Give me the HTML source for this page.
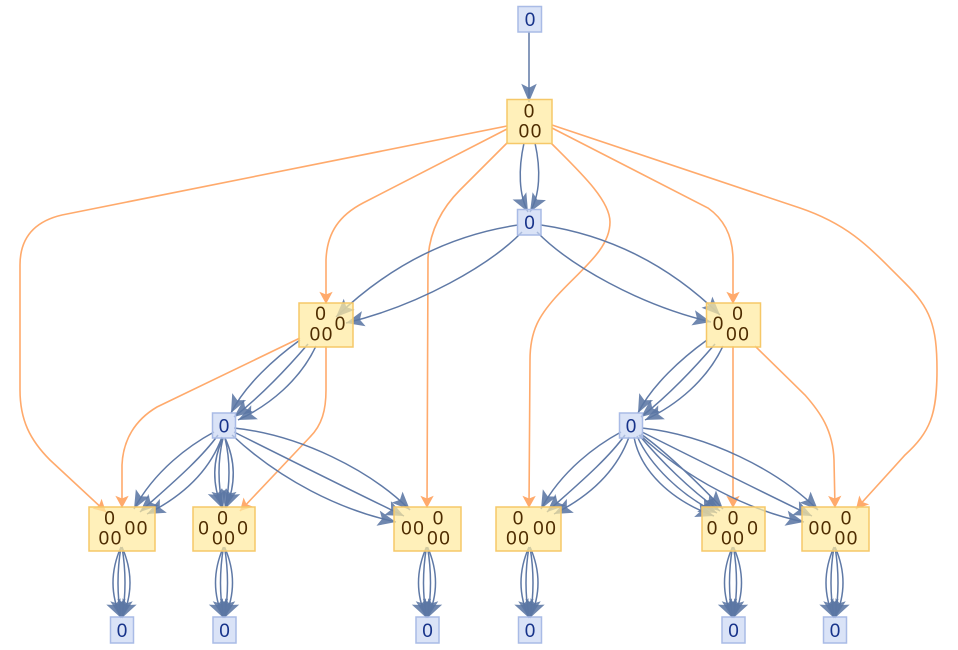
<!DOCTYPE html>
<html><head><meta charset="utf-8"><style>
html,body{margin:0;padding:0;background:#fff;}
svg{display:block;}
.o{fill:none;stroke:#ffaa6c;stroke-width:1.6;marker-end:url(#ao);}
.b{fill:none;stroke:#5f79a6;stroke-width:1.5;marker-end:url(#ab);}
.yn{fill:#ffeaa0;fill-opacity:0.72;stroke:#f6c868;stroke-width:1.5;}
.bn{fill:#cad7f4;fill-opacity:0.7;stroke:#a9bbe6;stroke-width:1.5;}
.yt{font-family:"Liberation Sans",sans-serif;font-size:19px;fill:#4e2c00;text-anchor:middle;}
.bt{font-family:"Liberation Sans",sans-serif;font-size:19px;fill:#17338a;text-anchor:middle;}
.p{letter-spacing:1.6px;}
</style></head><body>
<svg width="958" height="650" viewBox="0 0 958 650" xmlns="http://www.w3.org/2000/svg">
<defs>
<marker id="ab" markerUnits="userSpaceOnUse" markerWidth="24" markerHeight="24" viewBox="-19 -10 21 20" refX="0" refY="0" orient="auto">
<path d="M0,0 L-16,-6.8 L-12.5,0 L-16,6.8 Z" fill="#5b76a4" fill-opacity="0.88"/>
</marker>
<marker id="ao" markerUnits="userSpaceOnUse" markerWidth="20" markerHeight="20" viewBox="-16 -8 18 16" refX="0" refY="0" orient="auto">
<path d="M0,0 L-11,-6 L-8.5,0 L-11,6 Z" fill="#ffaa6c"/>
</marker>
</defs>

<!-- orange edges -->
<path class="o" d="M507,126 L62,215 C32,222 20,240 20,265 L20,390 C20,420 30,440 50,460 L106,512"/>
<path class="o" d="M507,129 L363,203 C340,215 327,232 326,260 L326,304"/>
<path class="o" d="M508,142 L460,190 C442,208 430,230 428,258 L427,508"/>
<path class="o" d="M551,143 C580,172 610,200 610,222 C610,250 580,270 555,298 C540,315 530,330 530,360 L529,508"/>
<path class="o" d="M552,128 L708,208 C725,220 733,238 733,260 L733,304"/>
<path class="o" d="M552,125 L800,208 C850,225 870,248 905,283 C930,308 937,325 937,370 C937,415 930,432 905,455 L856,509"/>
<path class="o" d="M300,338 L157,407 C135,420 123,440 122,465 L122,508"/>
<path class="o" d="M326,346 L326,390 C326,410 322,425 310,437 L240,511"/>
<path class="o" d="M733,346 L733,508"/>
<path class="o" d="M755,346 L805,395 C820,412 833,430 834,460 L835,508"/>

<!-- blue edges -->
<path class="b" d="M529,32 L529,102"/>
<path class="b" d="M524,143 C518,170 519,195 528,212"/>
<path class="b" d="M535,143 C541,170 540,195 530,212"/>
<!-- B1 -> Y1 -->
<path class="b" d="M518,225 C450,235 390,265 336,317"/>
<path class="b" d="M522,232 C490,265 420,305 346,323"/>
<!-- B1 -> Y2 -->
<path class="b" d="M541,225 C609,235 669,265 720,315"/>
<path class="b" d="M537,232 C569,265 639,305 711,322"/>
<!-- Y1 -> B2 -->
<path class="b" d="M300,340 C275,358 245,385 231,413"/>
<path class="b" d="M308,344 C290,365 262,395 234,417"/>
<path class="b" d="M316,346 C300,380 270,405 238,420"/>
<!-- Y2 -> B3 -->
<g transform="translate(407,0)">
<path class="b" d="M300,340 C275,358 245,385 231,413"/>
<path class="b" d="M308,344 C290,365 262,395 234,417"/>
<path class="b" d="M316,346 C300,380 270,405 238,420"/>
</g>
<!-- B2 -> Y3 -->
<path class="b" d="M214,432 C190,445 155,470 134,509"/>
<path class="b" d="M218,435 C200,460 170,485 140,512"/>
<path class="b" d="M222,437 C210,470 185,495 147,514"/>
<!-- B3 -> Y6 -->
<g transform="translate(407,0)">
<path class="b" d="M214,432 C190,445 155,470 134,509"/>
<path class="b" d="M218,435 C200,460 170,485 140,512"/>
<path class="b" d="M222,437 C210,470 185,495 147,514"/>
</g>
<!-- B2 -> Y4 -->
<path class="b" d="M223,438 Q207,472 222,508"/>
<path class="b" d="M223,438 Q215,472 223,508"/>
<path class="b" d="M225,438 Q233,472 225,508"/>
<path class="b" d="M225,438 Q241,472 226,508"/>
<!-- B2 -> Y5 -->
<path class="b" d="M234,428 C300,435 370,470 410,510"/>
<path class="b" d="M234,432 C290,460 350,490 404,516"/>
<path class="b" d="M232,435 C280,480 340,510 396,522"/>
<!-- B3 -> Y8 -->
<g transform="translate(408,0)">
<path class="b" d="M234,428 C300,435 370,470 410,510"/>
<path class="b" d="M234,432 C290,460 350,490 404,516"/>
<path class="b" d="M232,435 C280,480 340,510 396,522"/>
</g>
<!-- B3 -> Y7 -->
<path class="b" d="M634,437 C640,470 670,500 714,516"/>
<path class="b" d="M637,436 C650,465 680,495 717,513"/>
<path class="b" d="M639,435 C660,460 690,490 720,511"/>
<path class="b" d="M641,434 C670,455 700,485 723,509"/>

<!-- Y -> bottom blues -->
<g>
<path class="b" d="M121,547 Q105,583 121,618"/>
<path class="b" d="M121,547 Q115,583 121,618"/>
<path class="b" d="M122,547 Q128,583 122,618"/>
<path class="b" d="M122,547 Q138,583 122,618"/>
</g>
<g transform="translate(102.5,0)">
<path class="b" d="M121,547 Q105,583 121,618"/>
<path class="b" d="M121,547 Q115,583 121,618"/>
<path class="b" d="M122,547 Q128,583 122,618"/>
<path class="b" d="M122,547 Q138,583 122,618"/>
</g>
<g transform="translate(305.5,0)">
<path class="b" d="M121,547 Q105,583 121,618"/>
<path class="b" d="M121,547 Q115,583 121,618"/>
<path class="b" d="M122,547 Q128,583 122,618"/>
<path class="b" d="M122,547 Q138,583 122,618"/>
</g>
<g transform="translate(408,0)">
<path class="b" d="M121,547 Q105,583 121,618"/>
<path class="b" d="M121,547 Q115,583 121,618"/>
<path class="b" d="M122,547 Q128,583 122,618"/>
<path class="b" d="M122,547 Q138,583 122,618"/>
</g>
<g transform="translate(611.5,0)">
<path class="b" d="M121,547 Q105,583 121,618"/>
<path class="b" d="M121,547 Q115,583 121,618"/>
<path class="b" d="M122,547 Q128,583 122,618"/>
<path class="b" d="M122,547 Q138,583 122,618"/>
</g>
<g transform="translate(713,0)">
<path class="b" d="M121,547 Q105,583 121,618"/>
<path class="b" d="M121,547 Q115,583 121,618"/>
<path class="b" d="M122,547 Q128,583 122,618"/>
<path class="b" d="M122,547 Q138,583 122,618"/>
</g>

<!-- nodes -->
<rect class="bn" x="518" y="6.5" width="23.5" height="25.5"/>
<rect class="bn" x="517.5" y="209.5" width="23.5" height="25.5"/>
<rect class="bn" x="212.5" y="413" width="23" height="25"/>
<rect class="bn" x="619.5" y="413" width="23" height="25"/>
<rect class="bn" x="110.5" y="617" width="23" height="26"/>
<rect class="bn" x="213" y="617" width="23" height="26"/>
<rect class="bn" x="416" y="617" width="23" height="26"/>
<rect class="bn" x="518.5" y="617" width="23" height="26"/>
<rect class="bn" x="722" y="617" width="23" height="26"/>
<rect class="bn" x="823.5" y="617" width="23" height="26"/>

<rect class="yn" x="507" y="99.5" width="45" height="44"/>
<rect class="yn" x="299" y="303" width="54" height="44"/>
<rect class="yn" x="706.5" y="303" width="54" height="44"/>
<rect class="yn" x="89" y="507" width="66" height="44"/>
<rect class="yn" x="193" y="507" width="62" height="44"/>
<rect class="yn" x="394" y="507" width="67" height="44"/>
<rect class="yn" x="496" y="507" width="65" height="44"/>
<rect class="yn" x="702" y="507" width="63" height="44"/>
<rect class="yn" x="802" y="507" width="67" height="44"/>

<!-- blue labels -->
<text class="bt" x="530" y="26">0</text>
<text class="bt" x="529.5" y="229">0</text>
<text class="bt" x="224" y="432.5">0</text>
<text class="bt" x="631" y="432.5">0</text>
<text class="bt" x="122" y="637">0</text>
<text class="bt" x="224.5" y="637">0</text>
<text class="bt" x="427.5" y="637">0</text>
<text class="bt" x="530" y="637">0</text>
<text class="bt" x="733.5" y="637">0</text>
<text class="bt" x="835" y="637">0</text>

<!-- yellow labels -->
<!-- Y0 -->
<text class="yt" x="529" y="117.5">0</text>
<text class="yt p" x="530.8" y="137.5">00</text>
<!-- Y1 -->
<text class="yt" x="320.5" y="320">0</text>
<text class="yt" x="340" y="330">0</text>
<text class="yt p" x="321.8" y="340.5">00</text>
<!-- Y2 -->
<text class="yt" x="737.5" y="320">0</text>
<text class="yt" x="718" y="330">0</text>
<text class="yt p" x="738.3" y="340.5">00</text>
<!-- Y3 -->
<text class="yt" x="109.5" y="524.5">0</text>
<text class="yt p" x="110.8" y="544.5">00</text>
<text class="yt p" x="136.8" y="534.5">00</text>
<!-- Y4 -->
<text class="yt" x="222.5" y="524.5">0</text>
<text class="yt" x="203.5" y="534.5">0</text>
<text class="yt" x="242.5" y="534.5">0</text>
<text class="yt p" x="224.3" y="544.5">00</text>
<!-- Y5 -->
<text class="yt p" x="413.3" y="534.5">00</text>
<text class="yt" x="438" y="524.5">0</text>
<text class="yt p" x="439.3" y="544.5">00</text>
<!-- Y6 -->
<text class="yt" x="518" y="524.5">0</text>
<text class="yt p" x="518.3" y="544.5">00</text>
<text class="yt p" x="545.3" y="534.5">00</text>
<!-- Y7 -->
<text class="yt" x="733" y="524.5">0</text>
<text class="yt" x="712" y="534.5">0</text>
<text class="yt" x="752.5" y="534.5">0</text>
<text class="yt p" x="733.3" y="544.5">00</text>
<!-- Y8 -->
<text class="yt p" x="820.8" y="534.5">00</text>
<text class="yt" x="846" y="524.5">0</text>
<text class="yt p" x="846.8" y="544.5">00</text>
</svg>
</body></html>
